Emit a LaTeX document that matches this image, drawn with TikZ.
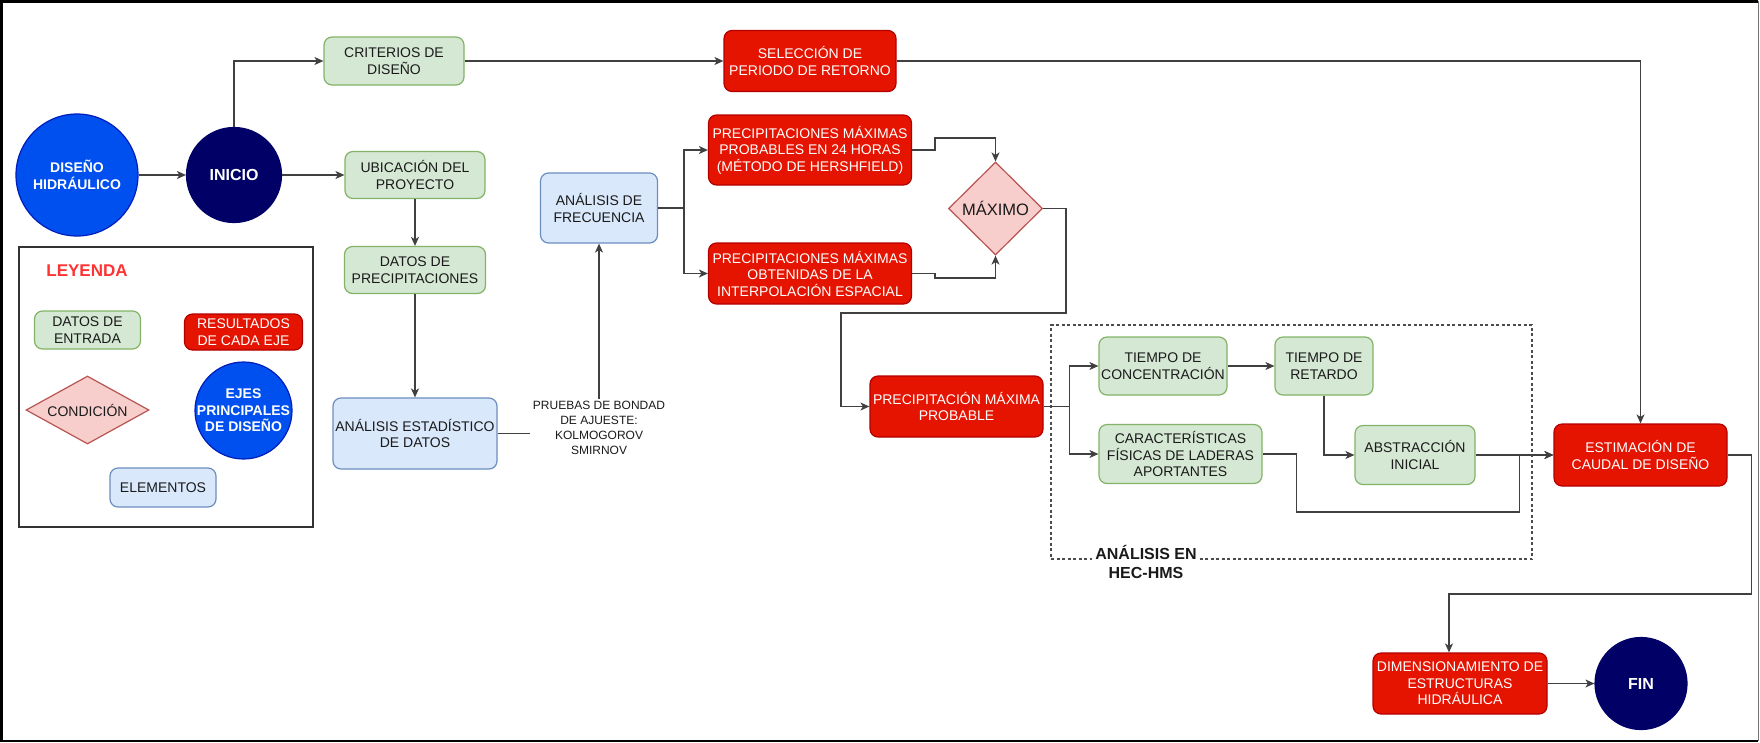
\documentclass[tikz,border=0pt]{standalone}
\usepackage{fontspec}
\setmainfont{Liberation Sans}
\usetikzlibrary{arrows.meta,shapes.geometric}

\definecolor{verdefondo}{HTML}{D5E8D4}
\definecolor{verdeborde}{HTML}{82B366}
\definecolor{azulfondo}{HTML}{DAE8FC}
\definecolor{azulborde}{HTML}{6C8EBF}
\definecolor{rojofondo}{HTML}{E51400}
\definecolor{rojoborde}{HTML}{B20000}
\definecolor{rosafondo}{HTML}{F8CECC}
\definecolor{rosaborde}{HTML}{B85450}
\definecolor{ejefondo}{HTML}{0050EF}
\definecolor{ejeborde}{HTML}{001DBC}
\definecolor{marino}{HTML}{000066}
\definecolor{titulo}{HTML}{FF3333}
\definecolor{texto}{HTML}{1A1A1A}

\begin{document}
\begin{tikzpicture}[x=1pt, y=-1pt, >={Stealth[length=9pt,width=8pt,inset=2.5pt]},
	every node/.style={font=\fontsize{14}{16.5}\selectfont, align=center, inner sep=1pt, line width=1.2pt},
	caja/.style 2 args={minimum width=#1pt, minimum height=#2pt},
	entrada/.style={draw=verdeborde, fill=verdefondo, text=texto, rounded corners=8pt},
	elemento/.style={draw=azulborde, fill=azulfondo, text=texto, rounded corners=8pt},
	resultado/.style={draw=rojoborde, fill=rojofondo, text=white, rounded corners=8pt},
	condicion/.style={diamond, draw=rosaborde, fill=rosafondo, text=texto, inner sep=0pt},
	eje/.style={circle, draw=#1, fill=#1, text=white, inner sep=0pt, font=\fontsize{14}{16.5}\selectfont\bfseries},
	flujo/.style={draw=black!75, line width=1.3pt}]
	\useasboundingbox (0,0) rectangle (1760,742);
	\draw[line width=2.5pt] (1758,1.25) -- (1.25,1.25) -- (1.25,740.75) -- (1758,740.75);
	\draw[black!55, line width=1pt] (1758,1.25) -- (1758,740.75);

	% flujo principal
	\node[eje=ejefondo, draw=ejeborde, minimum size=122pt] (dh) at (77,175) {DISEÑO\\HIDRÁULICO};
	\node[eje=marino, minimum size=95pt, font=\fontsize{16}{19}\selectfont\bfseries] (inicio) at (234,175) {INICIO};
	\node[entrada, caja={140}{48}] (crit) at (394,61) {CRITERIOS DE\\DISEÑO};
	\node[entrada, caja={140}{47}] (ubic) at (415,175) {UBICACIÓN DEL\\PROYECTO};
	\node[entrada, caja={141}{47}] (datos) at (415,270) {DATOS DE\\PRECIPITACIONES};
	\node[elemento, caja={164}{71}] (aest) at (415,433.5) {ANÁLISIS ESTADÍSTICO\\DE DATOS};
	\node[font=\fontsize{12}{15}\selectfont, text=texto, inner sep=2pt] (pruebas) at (599,428) {PRUEBAS DE BONDAD\\DE AJUESTE:\\KOLMOGOROV\\SMIRNOV};
	\node[elemento, caja={117}{70}] (afrec) at (599,208) {ANÁLISIS DE\\FRECUENCIA};
	\node[resultado, caja={172}{61}] (sel) at (810,61) {SELECCIÓN DE\\PERIODO DE RETORNO};
	\node[resultado, caja={203}{70}] (pmax) at (810,150) {PRECIPITACIONES MÁXIMAS\\PROBABLES EN 24 HORAS\\(MÉTODO DE HERSHFIELD)};
	\node[resultado, caja={203}{61}] (pint) at (810,273.5) {PRECIPITACIONES MÁXIMAS\\OBTENIDAS DE LA\\INTERPOLACIÓN ESPACIAL};
	\node[condicion, caja={94}{93}, font=\fontsize{16.5}{19}\selectfont] (maximo) at (995.5,208.5) {MÁXIMO};
	\node[resultado, caja={173}{61}] (pmp) at (956.5,406.5) {PRECIPITACIÓN MÁXIMA\\PROBABLE};

	% analisis en HEC-HMS
	\node[draw=black!70, line width=1.3pt, dash pattern=on 3pt off 2.5pt, caja={481}{234}] (hms) at (1291.5,442) {};
	\node[entrada, caja={128}{58}] (tc) at (1163,366) {TIEMPO DE\\CONCENTRACIÓN};
	\node[entrada, caja={98}{58}] (tr) at (1324,366) {TIEMPO DE\\RETARDO};
	\node[entrada, caja={163}{59}] (cf) at (1180.5,454) {CARACTERÍSTICAS\\FÍSICAS DE LADERAS\\APORTANTES};
	\node[entrada, caja={120}{59}] (ai) at (1415,455) {ABSTRACCIÓN\\INICIAL};
	\node[resultado, caja={173}{62}] (est) at (1640.5,455) {ESTIMACIÓN DE\\CAUDAL DE DISEÑO};
	\node[resultado, caja={174}{61}] (dim) at (1460,683.5) {DIMENSIONAMIENTO DE\\ESTRUCTURAS\\HIDRÁULICA};
	\node[eje=marino, minimum size=92pt, font=\fontsize{16}{19}\selectfont\bfseries] (fin) at (1641,683.5) {FIN};

	% leyenda
	\node[draw=black!80, line width=1.3pt, caja={294}{280}] (leyenda) at (166,387) {};
	\node[text=titulo, font=\fontsize{17}{20}\selectfont\bfseries] (leytit) at (87,271) {LEYENDA};
	\node[entrada, caja={106}{38}] (legent) at (87.5,330) {DATOS DE\\ENTRADA};
	\node[resultado, caja={118}{36}] (legres) at (243.5,332) {RESULTADOS\\DE CADA EJE};
	\node[condicion, shape aspect=1.8, caja={123}{68}] (legcond) at (87.5,410) {CONDICIÓN};
	\node[eje=ejefondo, draw=ejeborde, minimum size=97pt,
		label={[text=white, font=\fontsize{14}{16.5}\selectfont\bfseries]center:{EJES\\PRINCIPALES\\DE DISEÑO}}] (legeje) at (243.5,410.5) {};
	\node[elemento, caja={106}{39}] (legelem) at (163,487.5) {ELEMENTOS};

	% conectores
	\draw[flujo, ->] (dh) -- (inicio);
	\draw[flujo, ->] (inicio.north) |- (crit.west);
	\draw[flujo, ->] (inicio) -- (ubic);
	\draw[flujo, ->] (crit) -- (sel);
	\draw[flujo, ->] (sel.east) -| (est.north);
	\draw[flujo, ->] (ubic) -- (datos);
	\draw[flujo, ->] (datos) -- (aest);
	\draw[flujo] (aest.east) -- (pruebas.west |- aest.east);
	\draw[flujo, ->] (pruebas) -- (afrec);
	\draw[flujo, ->] (afrec.east) -- ++(26,0) |- (pmax.west);
	\draw[flujo, ->] (afrec.east) -- ++(26,0) |- (pint.west);
	\draw[flujo, ->] (pmax.east) -- ++(23,0) -- ++(0,-12) -| (maximo.north);
	\draw[flujo, ->] (pint.east) -- ++(23,0) -- ++(0,4.5) -| (maximo.south);
	\draw[flujo, ->] (maximo.east) -- ++(23,0) |- (841,313) |- (pmp.west);
	\draw[flujo, ->] (pmp.east) -- ++(26,0) |- (tc.west);
	\draw[flujo, ->] (pmp.east) -- ++(26,0) |- (cf.west);
	\draw[flujo, ->] (tc) -- (tr);
	\draw[flujo, ->] (tr.south) |- (ai.west);
	\draw[flujo, ->] (ai) -- (est);
	\draw[flujo, ->] (cf.east) -- ++(34,0) |- (1519.5,512) |- (est.west);
	\draw[flujo, ->] (est.east) -- ++(24,0) -- ++(0,139) -| ([xshift=-11pt]dim.north);
	\draw[flujo, ->] (dim) -- (fin);

	\node[fill=white, inner sep=3pt, text=texto, font=\fontsize{16}{19}\selectfont\bfseries] (hmstit) at (1146,562) {ANÁLISIS EN\\HEC-HMS};
\end{tikzpicture}
\end{document}
